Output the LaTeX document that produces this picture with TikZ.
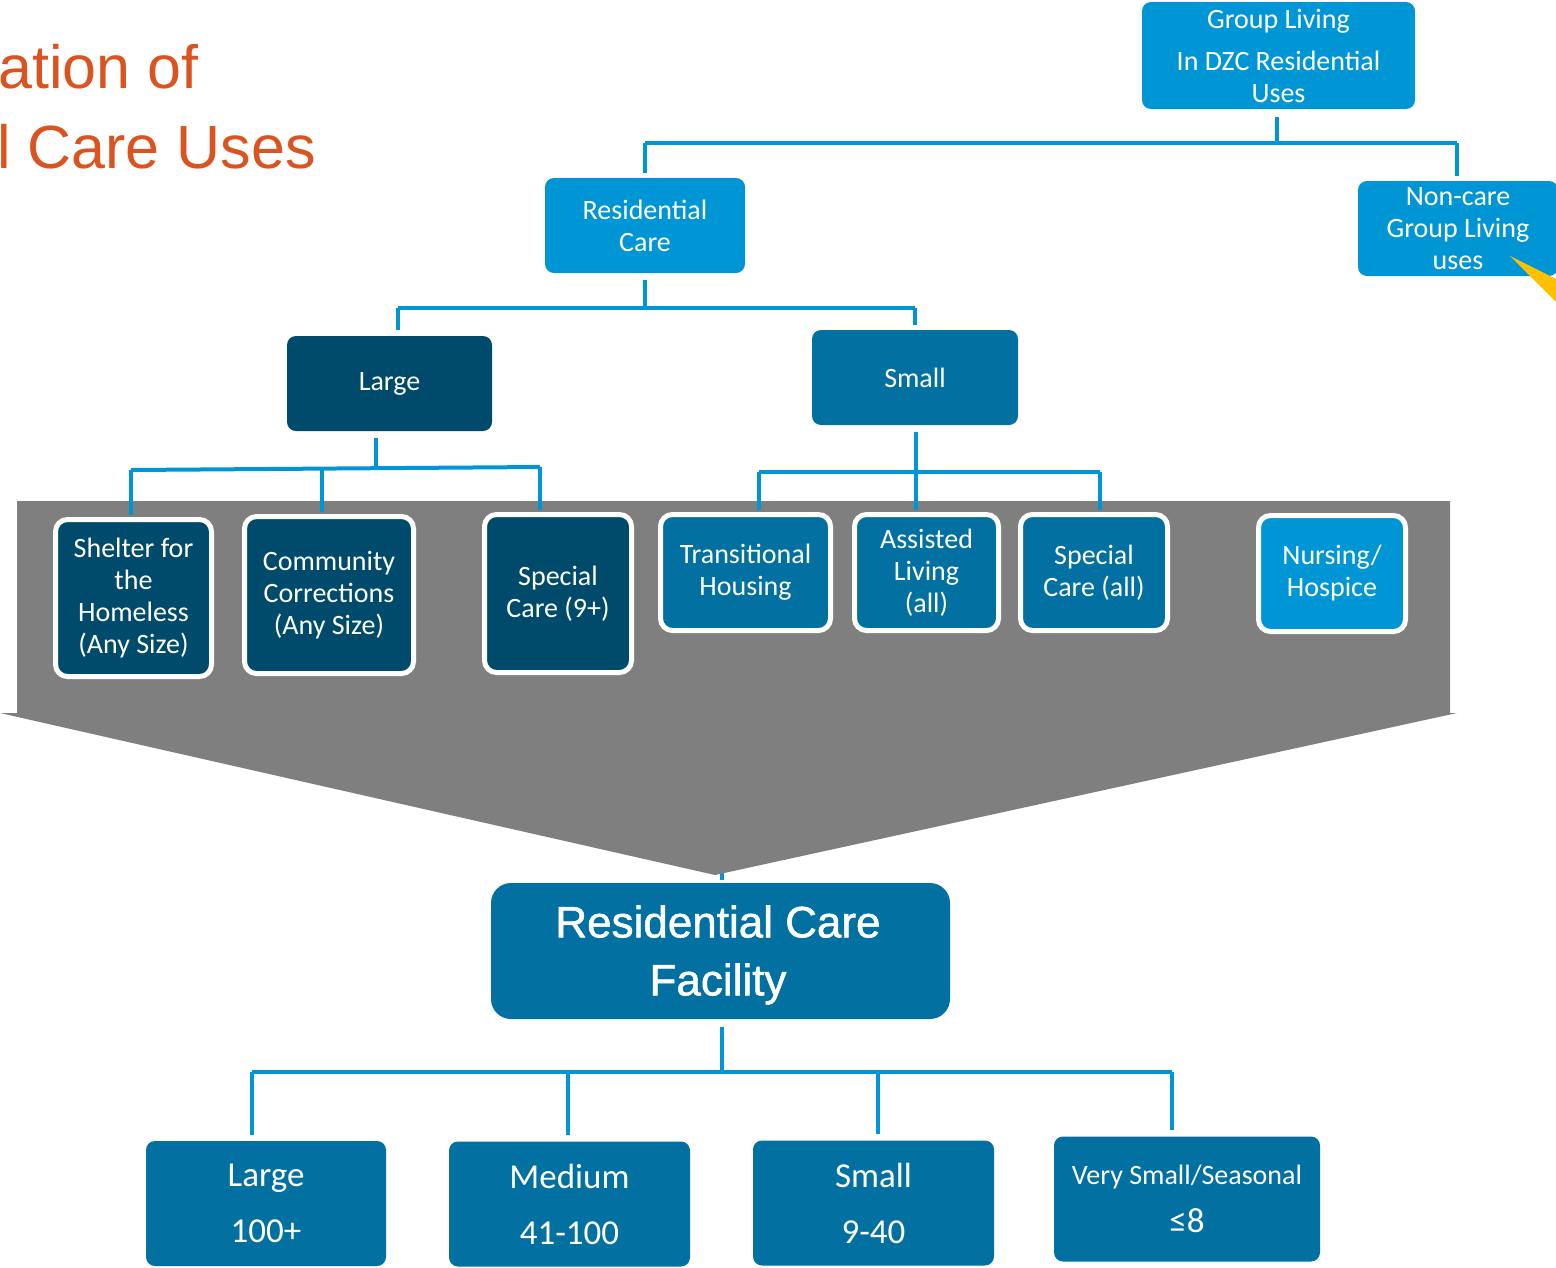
\documentclass[tikz,border=0pt]{standalone}
\usepackage{fontspec}
\setmainfont{Carlito}
\newfontfamily\headfont{Liberation Sans}
\newfontfamily\facilityfont[FakeBold=1.2]{Liberation Sans}
\definecolor{cLight}{RGB}{0,150,214}
\definecolor{cMid}{RGB}{2,112,160}
\definecolor{cDark}{RGB}{0,75,107}
\definecolor{cLine}{RGB}{0,150,214}
\definecolor{cGrey}{RGB}{127,127,127}
\definecolor{cOrange}{RGB}{217,84,32}
\definecolor{cYellow}{RGB}{255,192,0}
\tikzset{
  box/.style={rounded corners=9pt, inner sep=0pt, align=center, text=white,
              font=\fontsize{28}{32}\selectfont},
  lightbox/.style={box, fill=cLight},
  midbox/.style={box, fill=cMid},
  darkbox/.style={box, fill=cDark},
  framed/.style={draw=white, line width=5pt, rounded corners=12pt},
  sizebox/.style={midbox, minimum height=125pt, font=\fontsize{35}{56}\selectfont},
  conn/.style={draw=cLine, line width=4pt},
}
\begin{document}
\begin{tikzpicture}[x=1pt,y=-1pt]
\clip (0,0) rectangle (1556,1267);
\fill[white] (0,0) rectangle (1556,1267);

% heading
\node[anchor=base west, inner sep=0pt, text=cOrange, font=\headfont\fontsize{61}{70}\selectfont] (title1) at (-2,88) {ation of};
\node[anchor=base west, inner sep=0pt, text=cOrange, font=\headfont\fontsize{61}{70}\selectfont] (title2) at (-3,168) {l Care Uses};

% short stub above the facility box, mostly hidden by the funnel
\draw[conn] (722,850) -- (722,880);

% grey funnel
\fill[cGrey] (17,501) -- (1450,501) -- (1450,713) -- (1457,713) -- (715,875)
  -- (0,713) -- (17,713) -- cycle;

% upper hierarchy
\node[lightbox, minimum width=273pt, minimum height=107pt] (gl) at (1278.5,55.5)
  {Group Living\\[10pt]In DZC Residential\\Uses};
\node[lightbox, minimum width=200pt, minimum height=95pt] (rc) at (645,225.5)
  {Residential\\Care};
\node[lightbox, minimum width=200pt, minimum height=95pt] (nc) at (1458,228.5)
  {Non-care\\Group Living\\uses};
\node[darkbox, minimum width=205pt, minimum height=95pt] (lg) at (389.5,383.5) {Large};
\node[midbox, minimum width=206pt, minimum height=95pt] (sm) at (915,377.5) {Small};

% pointer at the right edge
\fill[cYellow] (1510,256) -- (1560,281) -- (1560,306) -- cycle;

% connectors: group living
\coordinate (t0) at (1277,143);
\coordinate (t1) at (645,143);
\coordinate (t2) at (1457,143);
\draw[conn] (t1) -- (t2);
\draw[conn, shorten <=8pt] (gl.south -| t0) -- (t0);
\draw[conn, shorten >=5pt] (t1) -- (rc.north);
\draw[conn, shorten >=5pt] (t2) -- (t2 |- nc.north);

% connectors: residential care
\coordinate (r0) at (645,308);
\coordinate (r1) at (398,308);
\coordinate (r2) at (915,308);
\draw[conn] (r1) -- (r2);
\draw[conn, shorten <=7pt] (rc.south) -- (r0);
\draw[conn, shorten >=6pt] (r1) -- (r1 |- lg.north);
\draw[conn, shorten >=5pt] (r2) -- (sm.north);

% category boxes
\node[darkbox, framed, minimum width=156pt, minimum height=157pt] (sh) at (133.5,598)
  {Shelter for\\the\\Homeless\\(Any Size)};
\node[darkbox, framed, minimum width=169pt, minimum height=157pt] (cc) at (329,595)
  {Community\\Corrections\\(Any Size)};
\node[darkbox, framed, minimum width=147pt, minimum height=158pt] (sp) at (558,593.5)
  {Special\\Care (9+)};
\node[midbox, framed, minimum width=170pt, minimum height=116pt] (th) at (745.5,572.5)
  {Transitional\\Housing};
\node[midbox, framed, minimum width=144pt, minimum height=116pt] (al) at (926.5,572.5)
  {Assisted\\Living\\(all)};
\node[midbox, framed, minimum width=147pt, minimum height=116pt] (sa) at (1094,572.5)
  {Special\\Care (all)};
\node[lightbox, framed, minimum width=147pt, minimum height=116pt] (nh) at (1332,573.5)
  {Nursing/\\Hospice};

% connectors: large
\coordinate (l0) at (376,468);
\coordinate (l1) at (131,470);
\coordinate (l2) at (322,469);
\coordinate (l3) at (540,467);
\draw[conn] (l1) -- (l3);
\draw[conn, shorten <=7pt] (lg.south -| l0) -- (l0);
\draw[conn, shorten >=2pt] (l1) -- (l1 |- sh.north);
\draw[conn, shorten >=2pt] (l2) -- (l2 |- cc.north);
\draw[conn, shorten >=2pt] (l3) -- (l3 |- sp.north);

% connectors: small
\coordinate (s0) at (916,472);
\coordinate (s1) at (759,472);
\coordinate (s2) at (1100,472);
\draw[conn] (s1) -- (s2);
\draw[conn, shorten <=7pt] (sm.south -| s0) -- (s0);
\draw[conn, shorten >=2pt] (s0) -- (s0 |- al.north);
\draw[conn, shorten >=2pt] (s1) -- (s1 |- th.north);
\draw[conn, shorten >=2pt] (s2) -- (s2 |- sa.north);

% facility and its sizes
\node[midbox, rounded corners=20pt, minimum width=459pt, minimum height=136pt] (rcf) at (720.5,951) {};
\node[inner sep=0pt, align=center, text=white,
      font=\facilityfont\fontsize{44}{58}\selectfont] (rcftext) at (718,955)
  {Residential Care\\Facility};

\node[sizebox, minimum width=240pt] (bl) at (266,1203.5) {Large\\100+};
\node[sizebox, minimum width=241pt] (bm) at (569.5,1204) {Medium\\41-100};
\node[sizebox, minimum width=241pt] (bs) at (873.5,1203) {Small\\9-40};
\node[sizebox, minimum width=266pt, font=\fontsize{28}{48}\selectfont] (bv) at (1187,1199)
  {Very Small/Seasonal\\{\fontsize{35}{48}\selectfont ≤8}};

\coordinate (f0) at (722,1072);
\coordinate (f1) at (252,1072);
\coordinate (f2) at (568,1072);
\coordinate (f3) at (878,1072);
\coordinate (f4) at (1172,1072);
\draw[conn] (f1) -- (f4);
\draw[conn, shorten <=8pt] (rcf.south -| f0) -- (f0);
\draw[conn, shorten >=6pt] (f1) -- (f1 |- bl.north);
\draw[conn, shorten >=6pt] (f2) -- (f2 |- bm.north);
\draw[conn, shorten >=6pt] (f3) -- (f3 |- bs.north);
\draw[conn, shorten >=6pt] (f4) -- (f4 |- bv.north);
\end{tikzpicture}
\end{document}
